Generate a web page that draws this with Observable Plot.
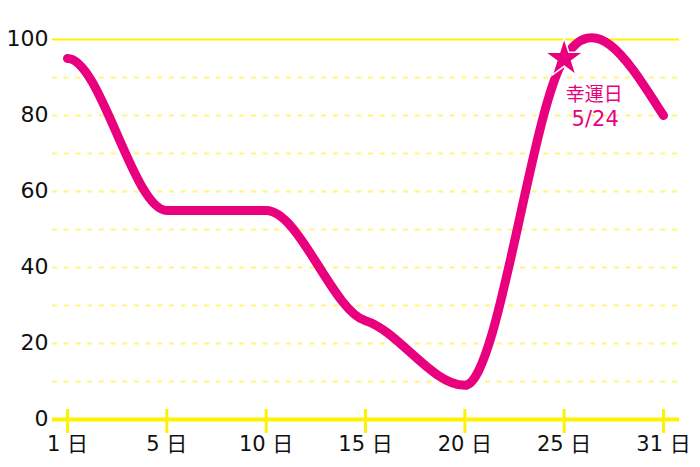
<!DOCTYPE html>
<html>
<head>
<meta charset="utf-8">
<script src="https://cdn.jsdelivr.net/npm/d3@7"></script>
<script src="https://cdn.jsdelivr.net/npm/@observablehq/plot@0.6"></script>
<style>
  html, body { margin: 0; padding: 0; background: #ffffff; }
  #chart { width: 700px; height: 467px; }
</style>
</head>
<body>
<div id="chart"></div>
<script>
// ---- data ----
const dayLabels = ["1 日", "5 日", "10 日", "15 日", "20 日", "25 日", "31 日"];
const values = [95, 55, 55, 26, 9, 95, 80];
const yTickValues = [0, 20, 40, 60, 80, 100];
const dashedGrid = [10, 20, 30, 40, 50, 60, 70, 80, 90];
const luckyIndex = 5;
const noteLines = ["幸運日", "5/24"];

// ---- curve shape (tangent at each point, value units per category step) ----
const curveTangents = [0, 0, 0, -8, 0, 42, -40];

// ---- styles ----
const PINK = "#e8007f";
const YELLOW = "#fff200";
const PALE = "#fff67a";
const FONT = "'DejaVu Sans', 'Noto Sans CJK JP', sans-serif";
const X_RANGE = [67, 663];
const Y_RANGE = [419, 39];

const KX = (X_RANGE[1] - X_RANGE[0]) / (dayLabels.length - 1);
const KY = (Y_RANGE[1] - Y_RANGE[0]) / 100;

function HermiteCurve(context) { this._c = context; }
HermiteCurve.prototype = {
  areaStart() {}, areaEnd() {},
  lineStart() { this._p = []; },
  point(x, y) { this._p.push([+x, +y]); },
  lineEnd() {
    const p = this._p, c = this._c;
    if (!p.length) return;
    c.moveTo(p[0][0], p[0][1]);
    for (let k = 1; k < p.length; k++) {
      const [x0, y0] = p[k - 1], [x1, y1] = p[k], h = (x1 - x0) / 3;
      const m0 = curveTangents[k - 1] * KY / KX, m1 = curveTangents[k] * KY / KX;
      c.bezierCurveTo(x0 + h, y0 + h * m0, x1 - h, y1 - h * m1, x1, y1);
    }
  }
};
const handCurve = (context) => new HermiteCurve(context);

const pts = values.map((v, i) => ({i, v}));
const dayIdx = dayLabels.map((d, i) => ({i, label: d}));

const chart = Plot.plot({
  width: 700,
  height: 467,
  marginLeft: 52,
  marginRight: 21,
  marginTop: 39,
  marginBottom: 48,
  x: {domain: [0, dayLabels.length - 1], range: X_RANGE, axis: null},
  y: {domain: [0, 100], range: Y_RANGE, axis: null},
  style: {fontFamily: FONT, background: "#ffffff", overflow: "visible"},
  marks: [
    Plot.ruleY(dashedGrid, {stroke: PALE, strokeWidth: 2, strokeDasharray: "5,6.7"}),
    Plot.ruleY([100], {stroke: YELLOW, strokeWidth: 2}),
    Plot.ruleY([0], {stroke: YELLOW, strokeWidth: 4}),
    Plot.ruleX(dayIdx, {x: "i", y1: () => 0, y2: () => 0, insetTop: -10, insetBottom: -14, stroke: YELLOW, strokeWidth: 3}),
    Plot.text(dayIdx, {x: "i", text: "label", frameAnchor: "bottom", dy: 31, fontSize: 21, fill: "#111"}),
    Plot.text(yTickValues, {y: d => d, text: d => String(d), frameAnchor: "left", dx: -4, dy: -1, textAnchor: "end", fontSize: 22, fill: "#111", letterSpacing: 1.5}),
    Plot.line(pts, {x: "i", y: "v", curve: handCurve, stroke: PINK, strokeWidth: 9, strokeLinecap: "round", strokeLinejoin: "round"}),
    Plot.dot([pts[luckyIndex]], {x: "i", y: "v", symbol: "star", r: 12.2, fill: PINK, stroke: "#ffffff", strokeWidth: 1.5}),
    Plot.text([{...pts[luckyIndex], t: noteLines[0]}], {x: "i", y: "v", text: "t", dx: 30, dy: 36, fontSize: 19, fill: PINK}),
    Plot.text([{...pts[luckyIndex], t: noteLines[1]}], {x: "i", y: "v", text: "t", dx: 31, dy: 61, fontSize: 21, fill: PINK, letterSpacing: 2})
  ]
});
document.getElementById("chart").appendChild(chart);
</script>
</body>
</html>
